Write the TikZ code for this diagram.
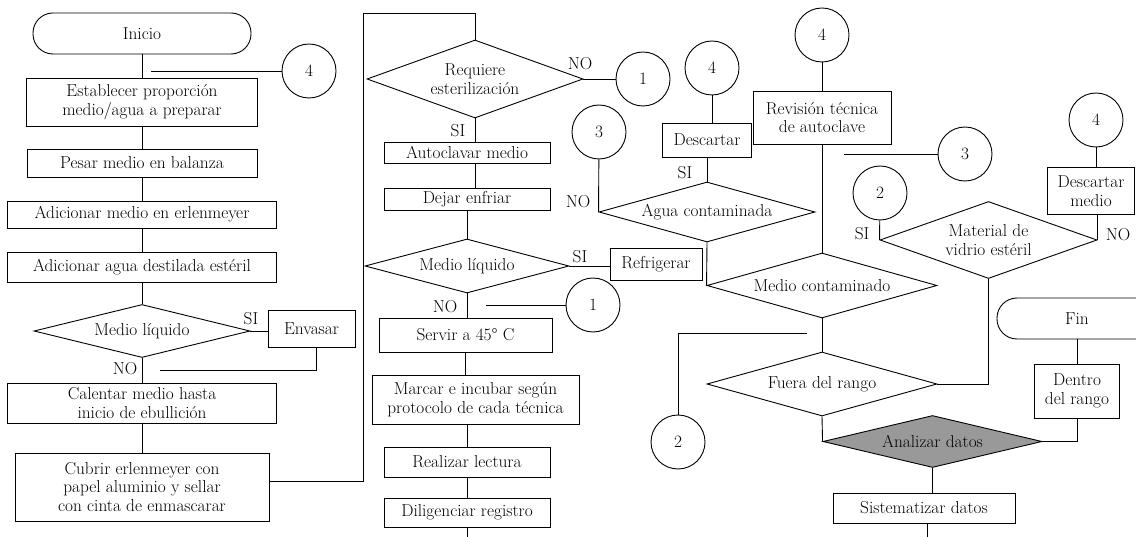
\documentclass[tikz,border=0pt]{standalone}
\usepackage{tikz}
\usetikzlibrary{shapes.geometric}
\definecolor{datagray}{RGB}{153,153,153}

\begin{document}
\begin{tikzpicture}[x=1pt,y=-1pt,line width=0.9pt]
    \tikzstyle{every node}=[font=\fontsize{17.3}{18.5}\selectfont]
    \tikzstyle{terminal}=[rectangle,draw,rounded corners=20pt,minimum height=41pt,inner sep=0pt]
    \tikzstyle{process}=[rectangle,draw,align=center,inner xsep=2pt,inner ysep=1pt]
    \tikzstyle{decision}=[diamond,draw,align=center,inner xsep=-50pt,inner ysep=-16pt]
    \tikzstyle{connector}=[circle,draw,minimum size=54pt,inner sep=0pt]
    \tikzstyle{answer}=[inner sep=0pt]
    \useasboundingbox (0,0) rectangle (1136,537);
    \clip (0,0) rectangle (1136,537);

    % first column
    \node[terminal,minimum width=218pt] (inicio) at (142,33.5) {Inicio};
    \node[process,minimum width=231pt,minimum height=48pt] (proporcion) at (142,102) {Establecer proporción\\medio/agua a preparar};
    \node[process,minimum width=230pt,minimum height=28pt] (pesar) at (142,163) {Pesar medio en balanza};
    \node[process,minimum width=269pt,minimum height=27pt] (adimedio) at (142,214.5) {Adicionar medio en erlenmeyer};
    \node[process,minimum width=269pt,minimum height=30pt] (adiagua) at (142,267) {Adicionar agua destilada estéril};
    \node[decision,minimum width=216pt,minimum height=53pt] (liquidoA) at (142,331) {Medio líquido};
    \node[process,minimum width=87pt,minimum height=37pt] (envasar) at (311.5,329) {Envasar};
    \node[process,minimum width=269pt,minimum height=40pt] (calentar) at (142,403) {Calentar medio hasta\\inicio de ebullición};
    \node[process,minimum width=254pt,minimum height=68pt] (cubrir) at (142,487) {Cubrir erlenmeyer con\\papel aluminio y sellar\\con cinta de enmascarar};

    % second column
    \node[decision,minimum width=216pt,minimum height=78pt] (esteril) at (475,79) {Requiere\\esterilización};
    \node[process,minimum width=166pt,minimum height=21pt] (autoclavar) at (467,152.5) {Autoclavar medio};
    \node[process,minimum width=166pt,minimum height=22pt] (enfriar) at (467,199) {Dejar enfriar};
    \node[decision,minimum width=204pt,minimum height=54pt] (liquidoB) at (467,266) {Medio líquido};
    \node[process,minimum width=92pt,minimum height=32pt] (refrigerar) at (656,264) {Refrigerar};
    \node[process,minimum width=173pt,minimum height=34pt] (servir) at (465.5,335) {Servir a 45° C};
    \node[process,minimum width=207pt,minimum height=49pt] (marcar) at (475.5,399.5) {Marcar e incubar según\\protocolo de cada técnica};
    \node[process,minimum width=166pt,minimum height=30pt] (lectura) at (467,462) {Realizar lectura};
    \node[process,minimum width=166pt,minimum height=29pt] (registro) at (467,512.5) {Diligenciar registro};

    % third column
    \node[process,minimum width=89pt,minimum height=34pt] (descartar) at (707,140) {Descartar};
    \node[decision,minimum width=216pt,minimum height=60pt] (agua) at (707,212) {Agua contaminada};
    \node[process,minimum width=138pt,minimum height=53pt] (revision) at (822,117.5) {Revisión técnica\\de autoclave};
    \node[decision,minimum width=230pt,minimum height=65pt] (medcont) at (822,285.5) {Medio contaminado};
    \node[decision,minimum width=217pt,minimum height=77pt] (vidrio) at (988.5,240) {Material de\\vidrio estéril};
    \node[process,minimum width=87pt,minimum height=47pt] (descmedio) at (1091,191) {Descartar\\medio};
    \node[decision,minimum width=230pt,minimum height=64pt] (rango) at (822,384) {Fuera del rango};
    \node[decision,fill=datagray,minimum width=219pt,minimum height=52pt] (analizar) at (932.5,441.5) {Analizar datos};
    \node[terminal,minimum width=160pt] (fin) at (1077,318.5) {Fin};
    \node[process,minimum width=85pt,minimum height=54pt] (dentro) at (1077,391) {Dentro\\del rango};
    \node[process,minimum width=182pt,minimum height=30pt] (sistematizar) at (924,508) {Sistematizar datos};

    \foreach \name/\x/\y/\num in {cuatroA/309/71/4, unoA/643/79/1, cuatroB/712/68/4, tresA/599/132/3, cuatroC/822/35/4,
                                  tresB/965/154/3, dosA/880/193/2, cuatroD/1096/120/4, unoB/593/305/1, dosB/678/442/2}
        \node[connector] (\name) at (\x,\y) {\num};

    \foreach \name/\x/\y/\txt in {siA/251/319/SI, noA/125/369/NO, noB/580/64/NO, siB/458/131/SI, siC/580/257/SI,
                                  noC/445/307/NO, siD/685/173/SI, noD/578/202/NO, siE/862/234/SI, noE/1118/235/NO}
        \node[answer] (\name) at (\x,\y) {\txt};

    \coordinate (tapA) at (151,71);
    \coordinate (retA) at (160,370);
    \coordinate (loopA) at (363,13);
    \coordinate (tapB) at (486,305);
    \coordinate (tapC) at (844,154);
    \coordinate (retB) at (807,333);
    \coordinate (endA) at (467,545);
    \coordinate (endB) at (927,545);

    % first column lines
    \draw (inicio) -- (proporcion) -- (pesar) -- (adimedio) -- (adiagua) -- (liquidoA) -- (calentar) -- (cubrir);
    \draw (cuatroA) -- (tapA);
    \draw (liquidoA.east) -- (liquidoA.east -| envasar.west);
    \draw ([xshift=5pt]envasar.south) |- (retA);
    \draw ([yshift=6pt]cubrir.east) -| (loopA) -| (esteril.north);

    % second column lines
    \draw (esteril.east) -- (unoA);
    \draw (esteril.south) -- (esteril.south |- autoclavar.north);
    \draw (esteril.south |- autoclavar.south) -- (esteril.south |- enfriar.north);
    \draw (enfriar) -- (liquidoB);
    \draw (liquidoB.east) -- (liquidoB.east -| refrigerar.west);
    \draw (liquidoB.south) -- (liquidoB.south |- servir.north);
    \draw (unoB) -- (tapB);
    \draw (servir.south) -- (servir.south |- marcar.north);
    \draw (marcar.south -| lectura.north) -- (lectura.north);
    \draw (lectura) -- (registro) -- (endA);

    % third column lines
    \draw (cuatroB) -- (cuatroB |- descartar.north);
    \draw (descartar) -- (agua);
    \draw (tresA) -- (agua.west);
    \draw (agua.south) -- (medcont.west);
    \draw (cuatroC) -- (revision) -- (medcont) -- (rango);
    \draw (tresB) -- (tapC);
    \draw (dosA) -- (vidrio.west);
    \draw (vidrio.east) -- (vidrio.east |- descmedio.south);
    \draw (cuatroD) -- (cuatroD |- descmedio.north);
    \draw (retB) -| (dosB);
    \draw (rango.east) -| (vidrio.south);
    \draw (rango.south) -- (analizar.west);
    \draw (fin) -- (dentro);
    \draw (dentro.south) |- (analizar.east);
    \draw (analizar.south) -- (analizar.south |- sistematizar.north);
    \draw ([xshift=3pt]sistematizar.south) -- (endB);
\end{tikzpicture}
\end{document}
